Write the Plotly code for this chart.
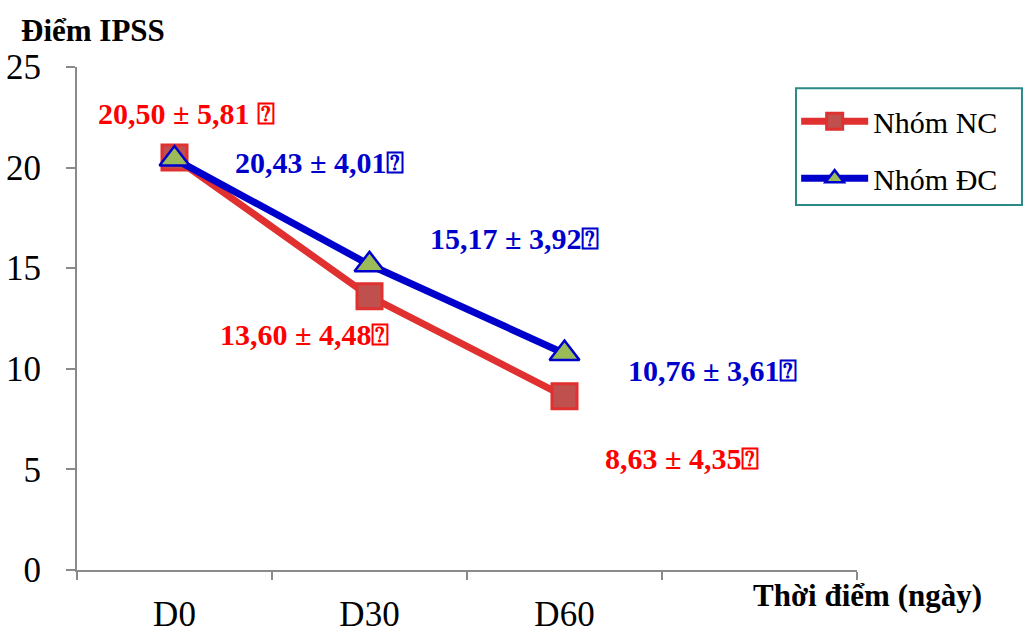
import plotly.graph_objects as go

categories = ["D0", "D30", "D60"]
axis_slots = ["D0", "D30", "D60", " "]
nc_values = [20.50, 13.60, 8.63]
dc_values = [20.43, 15.17, 10.76]
nc_labels = ["20,50 ± 5,81 ⍰", "13,60 ± 4,48⍰", "8,63 ± 4,35⍰"]
dc_labels = ["20,43 ± 4,01⍰", "15,17 ± 3,92⍰", "10,76 ± 3,61⍰"]
y_ticks = [0, 5, 10, 15, 20, 25]

SERIF = "Liberation Serif, Times New Roman, serif"
AXIS_COLOR = "#8a8a8a"

fig = go.Figure()
fig.add_trace(go.Scatter(
    x=categories, y=nc_values, name="Nhóm NC", mode="lines+markers",
    legendgroup="nc",
    line=dict(color="#E0302F", width=7),
    marker=dict(symbol="square", size=25, color="#C0504D",
                line=dict(color="#E0302F", width=3)),
))
fig.add_trace(go.Scatter(
    x=categories, y=dc_values, name="Nhóm ĐC", mode="lines+markers",
    legendgroup="dc",
    line=dict(color="#0000CC", width=7),
    marker=dict(symbol="triangle-up", size=26, color="#9BBB59",
                line=dict(color="#0000CC", width=2.5)),
))

# label offsets (pixels) relative to the data point
nc_offsets = [(12, 44), (-65, -38), (117, -62)]
dc_offsets = [(145, -4), (145, 26), (148, -17)]
for cat, val, txt, (dx, dy) in zip(categories, nc_values, nc_labels, nc_offsets):
    fig.add_annotation(x=cat, y=val, text=txt, showarrow=False, xshift=dx, yshift=dy,
                       font=dict(family=SERIF, size=30, color="#FF0000", weight="bold"))
for cat, val, txt, (dx, dy) in zip(categories, dc_values, dc_labels, dc_offsets):
    fig.add_annotation(x=cat, y=val, text=txt, showarrow=False, xshift=dx, yshift=dy,
                       font=dict(family=SERIF, size=30, color="#0000CC", weight="bold"))

fig.add_annotation(xref="paper", yref="paper", x=-0.074, y=1.0, yshift=37,
                   xanchor="left", yanchor="middle", text="Điểm IPSS", showarrow=False,
                   font=dict(family=SERIF, size=31, color="black", weight="bold"))
fig.add_annotation(xref="paper", yref="paper", x=1.163, y=0, yshift=-25,
                   xanchor="right", yanchor="middle", text="Thời điểm (ngày)", showarrow=False,
                   font=dict(family=SERIF, size=31, color="black", weight="bold"))

# legend frame
fig.add_shape(type="rect", xref="paper", yref="paper",
              x0=0.9218, x1=1.2115, y0=0.7256, y1=0.958,
              line=dict(color="#2A8A88", width=2), fillcolor="rgba(0,0,0,0)", layer="below")

fig.update_layout(
    width=1029, height=633,
    margin=dict(l=77, r=172, t=67, b=63),
    paper_bgcolor="white", plot_bgcolor="white",
    showlegend=True,
    legend=dict(x=0.922, y=0.944, xanchor="left", yanchor="top",
                borderwidth=0, bgcolor="rgba(0,0,0,0)",
                font=dict(family=SERIF, size=30, color="black"),
                itemwidth=67, tracegroupgap=15),
    xaxis=dict(type="category", categoryorder="array", categoryarray=axis_slots,
               range=[-0.5, 3.5], showline=True, linecolor=AXIS_COLOR, linewidth=2,
               ticks="outside", tickson="boundaries", ticklen=8, tickwidth=2,
               tickcolor=AXIS_COLOR, showgrid=False, zeroline=False, automargin=False,
               ticklabelstandoff=12,
               tickfont=dict(family=SERIF, size=35, color="black")),
    yaxis=dict(range=[0, 25], tickvals=y_ticks, showline=True, linecolor=AXIS_COLOR,
               linewidth=2, ticks="outside", ticklen=9, tickwidth=2, tickcolor=AXIS_COLOR,
               showgrid=False, zeroline=False, ticklabelstandoff=18, automargin=False,
               tickfont=dict(family=SERIF, size=35, color="black")),
)

fig.write_html("out.html")
